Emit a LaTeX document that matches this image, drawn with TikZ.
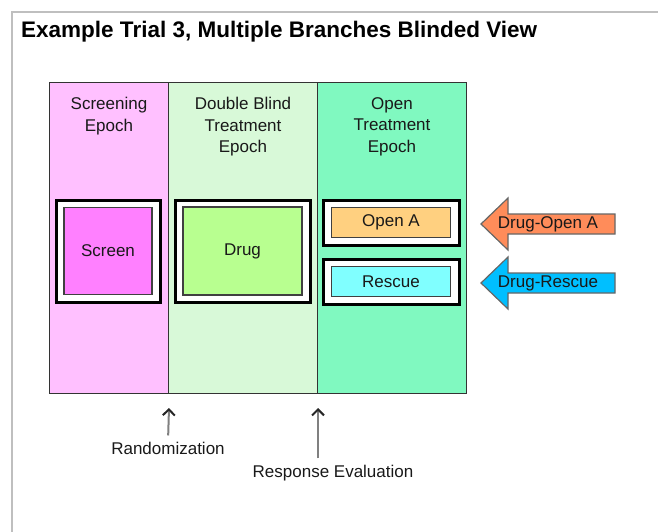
\documentclass[tikz,border=0pt]{standalone}
\usepackage{fontspec}
\setmainfont{Liberation Sans}
\usepackage{tikz}
\usetikzlibrary{arrows.meta, positioning}

\definecolor{scrpink}{HTML}{FFC0FF}
\definecolor{dbgreen}{HTML}{D8F9D8}
\definecolor{opgreen}{HTML}{80F9C0}
\definecolor{scrmag}{HTML}{FF80FF}
\definecolor{druglime}{HTML}{B8FF90}
\definecolor{openorange}{HTML}{FFD080}
\definecolor{rescuecyan}{HTML}{80FFFF}
\definecolor{arrcoral}{HTML}{FF8C5A}
\definecolor{arrblue}{HTML}{00BFFF}

\begin{document}
\begin{tikzpicture}[x=1pt, y=-1pt,
      every node/.style={inner sep=0pt, text=black!90},
      txt/.style={font=\fontsize{17}{21.5}\selectfont},
      epoch/.style={draw=black!80, line width=1pt, anchor=north west, minimum height=311pt},
      etitle/.style={txt, anchor=north, align=center},
      outerbox/.style={draw=black, line width=3pt, fill=white},
      innerbox/.style={txt, draw=black!75, line width=1.5pt},
      blockarrow/.style={draw=black!60, line width=1.2pt},
      evarrow/.style={draw=black!50, line width=2pt, shorten <=6pt,
        -{Straight Barb[length=6pt, width=12pt, line width=2pt, color=black!85]}}]
      \useasboundingbox (0,0) rectangle (658,532);
      \draw[black!25, line width=2pt] (12,532) -- (12,12) -- (658,12);
      \node[anchor=base west, text=black, font=\bfseries\fontsize{22.5}{26}\selectfont] (T) at (21,38)
        {Example Trial 3, Multiple Branches Blinded View};
      % epochs
      \node[epoch, fill=scrpink, minimum width=119pt] (E1) at (49,82) {};
      \node[epoch, fill=dbgreen, minimum width=149pt] (E2) at (168,82) {};
      \node[epoch, fill=opgreen, minimum width=149pt] (E3) at (317,82) {};
      \node[etitle] (E1t) at ([yshift=-15pt]E1.north) {Screening\\Epoch};
      \node[etitle] (E2t) at ([yshift=-15pt]E2.north) {Double Blind\\Treatment\\Epoch};
      \node[etitle] (E3t) at ([yshift=-15pt]E3.north) {Open\\Treatment\\Epoch};
      % arms
      \node[outerbox, minimum width=104pt, minimum height=102pt] (S0) at (108,251) {};
      \node[innerbox, fill=scrmag, minimum width=88pt, minimum height=87pt] (S) at (S0) {Screen};
      \node[outerbox, minimum width=135pt, minimum height=102pt] (D0) at (242.5,251) {};
      \node[innerbox, fill=druglime, minimum width=119pt, minimum height=88pt] (D) at (D0) {Drug};
      \node[outerbox, minimum width=136pt, minimum height=45pt] (O0) at (391,222.5) {};
      \node[innerbox, fill=openorange, minimum width=119pt, minimum height=30pt] (O) at (O0) {Open A};
      \node[outerbox, minimum width=136pt, minimum height=45pt] (R0) at (391,281.5) {};
      \node[innerbox, fill=rescuecyan, minimum width=119pt, minimum height=30pt] (Rs) at (R0) {Rescue};
      % blinded branches
      \filldraw[blockarrow, fill=arrcoral] (481,224) -- ++(27,-26) -- ++(0,16) -- ++(107,0)
        -- ++(0,20) -- ++(-107,0) -- ++(0,16) -- cycle;
      \node[txt] (DO) at (548,224) {Drug-Open A};
      \filldraw[blockarrow, fill=arrblue] (481,283) -- ++(27,-26) -- ++(0,16) -- ++(107,0)
        -- ++(0,20) -- ++(-107,0) -- ++(0,16) -- cycle;
      \node[txt] (DR) at (548,283) {Drug-Rescue};
      % events
      \node[txt, anchor=base] (Rnd) at (168,454) {Randomization};
      \node[txt, anchor=base] (Ev) at (333,477) {Response Evaluation};
      \draw[evarrow] (Rnd.north) -- ([yshift=-14pt]E1.south east);
      \draw[evarrow] (E2.south east |- Ev.north) -- ([yshift=-14pt]E2.south east);
\end{tikzpicture}
\end{document}
